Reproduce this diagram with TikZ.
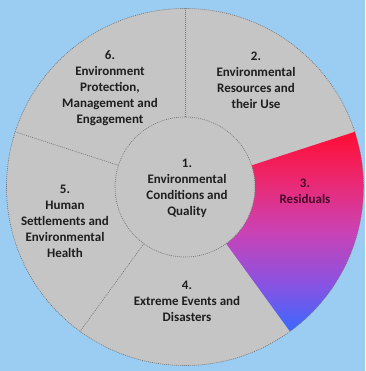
\documentclass[tikz,border=0pt]{standalone}
\usepackage{fontspec}
\setmainfont{Carlito}
\usepackage{xcolor}
\usepackage{tikz}
\usetikzlibrary{calc, positioning}

\definecolor{skyblue}{RGB}{155,204,242}
\definecolor{diskgray}{RGB}{197,197,197}
\definecolor{linegray}{RGB}{115,115,115}
\definecolor{darktext}{RGB}{30,30,30}
\pgfdeclareverticalshading{residualshade}{100bp}{
  rgb(0bp)=(0.23,0.41,1); rgb(25bp)=(0.23,0.41,1);
  rgb(37.5bp)=(0.55,0.32,0.88); rgb(50bp)=(0.79,0.26,0.71);
  rgb(62.5bp)=(0.92,0.16,0.45); rgb(75bp)=(1,0.05,0.2); rgb(100bp)=(1,0.05,0.2)}

\begin{document}
\begin{tikzpicture}[x=1pt, y=1pt]
            % Block styles
            \tikzstyle{divider} = [draw=linegray, line width=0.6pt, dash pattern=on 1pt off 1pt]
            \tikzstyle{sector_text} = [align=center, text=darktext, font=\fontsize{13}{16}\selectfont\bfseries]
            % Background
            \fill[skyblue] (0,0) rectangle (365,371);
            \useasboundingbox (0,0) rectangle (365,371);
            \coordinate (c) at (185,184);
            % Disk and residuals sector
            \fill[diskgray] (c) circle (178.5);
            \shade[shading=residualshade]
                ($(c)+(18:70)$) -- ($(c)+(18:178.5)$) arc (18:-54:178.5) -- ($(c)+(-54:70)$) arc (-54:18:70) -- cycle;
            \draw[divider] (c) circle (178.5);
            % Dividers
            \draw[divider] ($(c)+(90:70)$) -- ($(c)+(90:178.5)$);
            \draw[divider] ($(c)+(162:70)$) -- ($(c)+(162:178.5)$);
            \draw[divider] ($(c)+(234:70)$) -- ($(c)+(234:178.5)$);
            % Inner circle
            \fill[diskgray] (c) circle (70);
            \draw[divider] (c) circle (70);
            % Labels
            \node[sector_text] (env_cond) at (187,183) {1.\\Environmental\\Conditions and\\Quality};
            \node[sector_text] (env_res) at (256,291) {2.\\Environmental\\Resources and\\their Use};
            \node[sector_text, text={rgb,255:red,70;green,10;blue,40}] (residuals) at (305,180) {3.\\Residuals};
            \node[sector_text] (extreme) at (187,70) {4.\\Extreme Events and\\Disasters};
            \node[sector_text] (human_settle) at (65,150) {5.\\Human\\Settlements and\\Environmental\\Health};
            \node[sector_text] (env_protect) at (110,283) {6.\\Environment\\Protection,\\Management and\\Engagement};
        \end{tikzpicture}
\end{document}
